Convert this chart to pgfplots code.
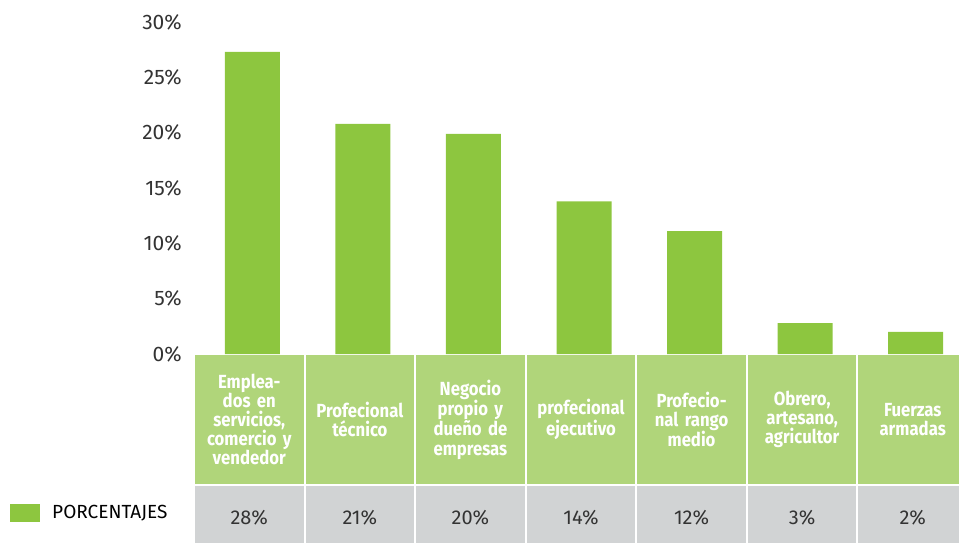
\documentclass[border=0pt]{standalone}
\usepackage{fontspec}
\setmainfont{Fira Sans}
\newfontfamily\condbf{Fira Sans}[FakeStretch=0.88]
\usepackage{pgfplots}
\pgfplotsset{compat=1.18}
\definecolor{bargreen}{HTML}{8DC63F}
\definecolor{cellgreen}{HTML}{B0D57A}
\definecolor{cellgray}{HTML}{D1D3D4}
\definecolor{txt}{HTML}{333333}
% value label in the grey row, set in the label itself
\newcommand\val[1]{\normalfont\mdseries\fontsize{20bp}{24bp}\selectfont\color{txt}#1\%}

\begin{document}
\begin{tikzpicture}
\begin{axis}[
  set layers,
  scale only axis, width=774bp, height=332bp,
  xmin=-0.5, xmax=6.5, ymin=0, ymax=30,
  clip=false,
  axis line style={draw=none},
  major tick length=0pt,
  ytick={0,5,...,30},
  yticklabels={0\%,5\%,10\%,15\%,20\%,25\%,30\%},
  yticklabel style={font=\fontsize{21bp}{24bp}\selectfont, text=txt,
    inner sep=0pt, anchor=east, xshift=-12bp},
  xtick={0,...,6},
  xticklabels={
    {Emplea-\\dos en\\servicios,\\comercio y\\vendedor},
    {Profecional\\técnico},
    {Negocio\\propio y\\dueño de\\empresas},
    {profecional\\ejecutivo},
    {Profecio-\\nal rango\\medio},
    {Obrero,\\artesano,\\agricultor},
    {Fuerzas\\armadas}},
  xticklabel style={font=\condbf\bfseries\fontsize{19bp}{19.2bp}\selectfont,
    text=white, text width=108bp, align=center, anchor=center,
    inner sep=0pt, yshift=-65.5bp},
  extra x ticks={0,...,6},
  extra x tick labels={\val{28},\val{21},\val{20},\val{14},\val{12},\val{3},\val{2}},
  extra x tick style={tick label style={yshift=-98.5bp}},
  legend style={at={(-0.2377,-0.479)}, anchor=west, draw=none, fill=none,
    inner sep=0pt, font=\fontsize{19bp}{22bp}\selectfont, text=black,
    nodes={inner sep=0pt}, column sep=12bp},
]
\begin{pgfonlayer}{axis background}
\pgfplotsinvokeforeach{0,...,6}{
  \fill[cellgreen] (axis cs:#1-0.491,-0.05) rectangle (axis cs:#1+0.491,-11.75);
  \fill[cellgray] (axis cs:#1-0.491,-11.93) rectangle (axis cs:#1+0.491,-17.6);
}
\end{pgfonlayer}
\addplot[ybar, bar width=55bp, bar shift=3bp, fill=bargreen, draw=none,
  legend image code/.code={\fill[bargreen] (0bp,-9bp) rectangle (30bp,9bp);}]
  coordinates {(0,27.3) (1,20.8) (2,19.9) (3,13.8) (4,11.1) (5,2.8) (6,2.0)};
\addlegendentry{PORCENTAJES}
\coordinate (O) at (rel axis cs:0,0);
\end{axis}
\pgfresetboundingbox
\path (O) ++(-194bp,-189bp) rectangle ++(959bp,543bp);
\end{tikzpicture}
\end{document}
